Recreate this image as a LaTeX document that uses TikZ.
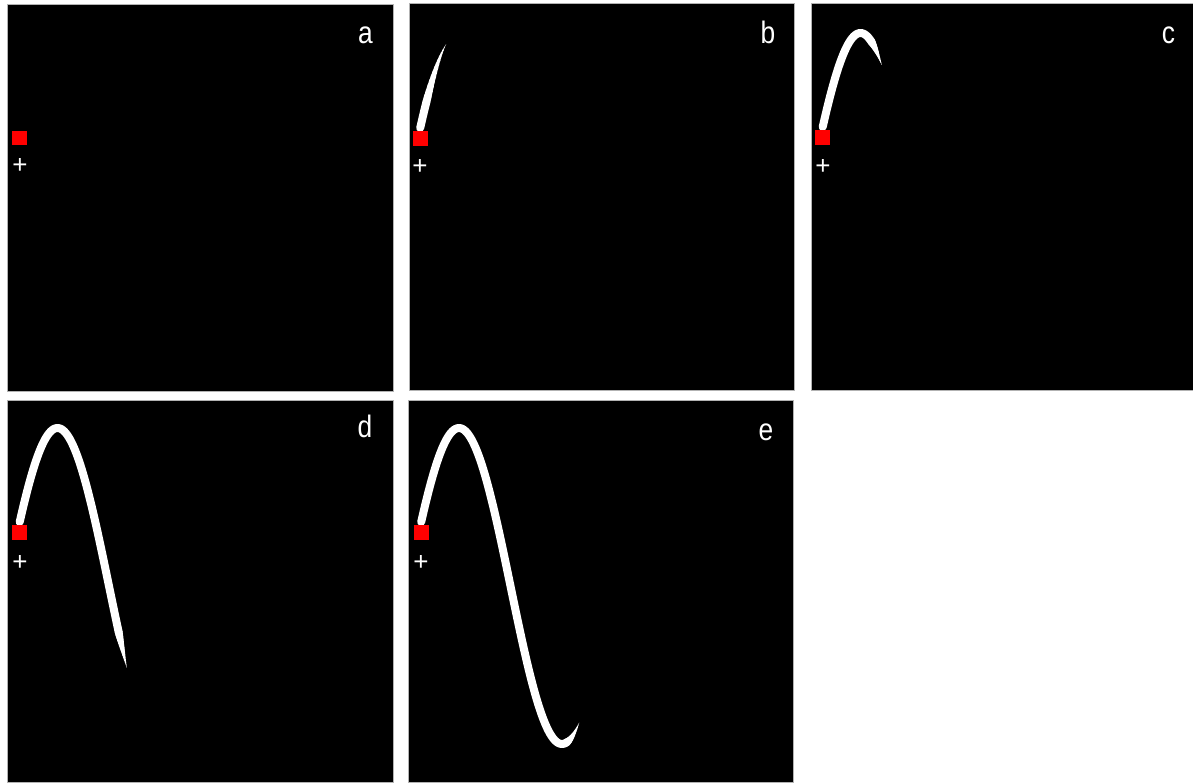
\documentclass[tikz,border=0pt]{standalone}
\usepackage{fontspec}
\setmainfont{Liberation Sans}
\newfontfamily\labelfont[FakeStretch=0.85]{Liberation Sans}
\tikzset{
  panel/.style={fill=black, draw=gray!60, line width=1pt},
  redsq/.style={fill=red, draw=none, minimum width=15pt, minimum height=14.5pt, inner sep=0pt},
  plusmark/.style={text=white, font=\fontsize{26}{26}\selectfont, inner sep=0pt},
  letter/.style={text=white, font=\labelfont\fontsize{31}{31}\selectfont, anchor=base, inner sep=0pt},
  trace/.style={draw=white, line width=8pt, line cap=round, line join=round}
}
% pen trace relative to the red square centre; #1 = name, #2 = end angle, #3 = taper (deg)
\newcommand{\pentrace}[3]{%
  \pgfmathsetmacro{\tstart}{23.9}%
  \pgfmathsetmacro{\tmid}{#2-#3}%
  \pgfmathsetmacro{\tstep}{#3/14}%
  \draw[trace] plot[domain=\tstart:\tmid, samples=90, smooth]
     ({38+0.572*(\x-90)},{53.5-158*sin(\x)});
  \foreach \i in {0,...,13}{%
    \pgfmathsetmacro{\ta}{\tmid+\i*\tstep}%
    \pgfmathsetmacro{\tb}{\ta+\tstep}%
    \pgfmathsetmacro{\wd}{8*(1-(\i+0.5)/14)}%
    \draw[draw=white, line width=\wd pt, line cap=round]
      ({38+0.572*(\ta-90)},{53.5-158*sin(\ta)}) -- ({38+0.572*(\tb-90)},{53.5-158*sin(\tb)});
  }%
}
\begin{document}
\begin{tikzpicture}[x=1pt, y=-1pt]
\useasboundingbox[fill=white] (0,0) rectangle (1193,782);
% panels
\draw[panel] (7,4) rectangle (393,391);
\draw[panel] (409,3) rectangle (794,390);
\draw[panel] (811,3) rectangle (1193.5,390);
\draw[panel] (7,400) rectangle (393,782.5);
\draw[panel] (408,400) rectangle (793,782.5);
% traces
\begin{scope}[shift={(420,138.5)}] \pentrace{b}{69}{34} \end{scope}
\begin{scope}[shift={(822.5,137.5)}] \pentrace{c}{127}{18} \end{scope}
\begin{scope}[shift={(19.5,532.5)}] \pentrace{d}{211}{14} \end{scope}
\begin{scope}[shift={(421,532.5)}] \pentrace{e}{300}{22} \end{scope}
% red squares
\node[redsq] (sqa) at (19.5,138) {};
\node[redsq] (sqb) at (420,138.5) {};
\node[redsq] (sqc) at (822.5,137.5) {};
\node[redsq] (sqd) at (19.5,532.5) {};
\node[redsq] (sqe) at (421,532.5) {};
% plus marks
\node[plusmark] (pa) at (20,166) {+};
\node[plusmark] (pb) at (420,167) {+};
\node[plusmark] (pc) at (823,167) {+};
\node[plusmark] (pd) at (20,563) {+};
\node[plusmark] (pe) at (421,563) {+};
% panel letters
\node[letter] (la) at (365.5,43) {a};
\node[letter] (lb) at (768,43) {b};
\node[letter] (lc) at (1168.5,43) {c};
\node[letter] (ld) at (365,437) {d};
\node[letter] (le) at (766,440) {e};
\end{tikzpicture}
\end{document}
